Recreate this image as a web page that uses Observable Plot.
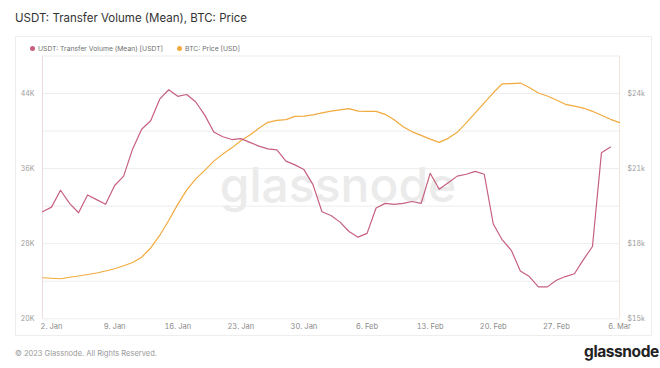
<!DOCTYPE html>
<html>
<head>
<meta charset="utf-8">
<script src="https://cdn.jsdelivr.net/npm/d3@7"></script>
<script src="https://cdn.jsdelivr.net/npm/@observablehq/plot@0.6"></script>
<style>
  html, body { margin: 0; padding: 0; background: #fff; }
  body { width: 660px; height: 368px; position: relative; overflow: hidden; font-family: Inter, "Noto Sans", sans-serif; }
  #title { position: absolute; left: 15px; top: 11px; font-size: 11.5px; color: #333; white-space: nowrap; }
  #frame { position: absolute; left: 15px; top: 36px; width: 637px; height: 300px; border: 1px solid #eeeeee; box-sizing: border-box; }
  #legend { position: absolute; left: 30px; top: 44px; font-size: 6.8px; color: #707070; white-space: nowrap; display: flex; gap: 14px; }
  #legend span.dot { display: inline-block; width: 5px; height: 5px; border-radius: 50%; margin-right: 3px; vertical-align: 0px; }
  #chart { position: absolute; left: 0; top: 0; }
  #copy { position: absolute; left: 15px; top: 349px; font-size: 7.5px; color: #999; white-space: nowrap; }
  #logo { position: absolute; left: 584px; top: 342px; font-size: 15.5px; font-weight: 700; color: #222; letter-spacing: -0.4px; white-space: nowrap; }
</style>
</head>
<body>
<div id="title">USDT: Transfer Volume (Mean), BTC: Price</div>
<div id="frame"></div>
<div id="chart"></div>
<div id="legend"></div>
<div id="copy">© 2023 Glassnode. All Rights Reserved.</div>
<div id="logo">glassnode</div>
<script>
// ---- data (daily, starting 1 Jan 2023) ----
const startDate = "2023-01-01";
const seriesNames = ["USDT: Transfer Volume (Mean) [USDT]", "BTC: Price [USD]"];
const seriesColors = ["#c6607f", "#f1aa3e"];
// USDT mean transfer volume, thousands of USDT
const usdtVolumeK = [31.4, 31.9, 33.7, 32.3, 31.3, 33.2, 32.7, 32.2, 34.2, 35.2,
  38.1, 40.2, 41.1, 43.4, 44.4, 43.7, 43.9, 43.1, 41.7, 39.9,
  39.4, 39.1, 39.2, 38.8, 38.4, 38.1, 38.0, 36.8, 36.4, 35.9,
  34.3, 31.4, 31.0, 30.3, 29.3, 28.7, 29.1, 31.8, 32.3, 32.2,
  32.3, 32.5, 32.3, 35.5, 33.8, 34.5, 35.2, 35.4, 35.7, 35.4,
  30.1, 28.4, 27.3, 25.1, 24.5, 23.4, 23.4, 24.1, 24.5, 24.8,
  26.3, 27.7, 37.7, 38.3];
// BTC price, thousands of USD
const btcPriceK = [16.64, 16.62, 16.60, 16.66, 16.71, 16.77, 16.83, 16.91, 17.00, 17.12,
  17.25, 17.46, 17.83, 18.33, 18.93, 19.57, 20.15, 20.59, 20.93, 21.30,
  21.58, 21.83, 22.11, 22.34, 22.61, 22.85, 22.93, 22.96, 23.09, 23.10,
  23.15, 23.23, 23.30, 23.35, 23.40, 23.30, 23.29, 23.29, 23.17, 22.95,
  22.67, 22.47, 22.33, 22.18, 22.05, 22.21, 22.45, 22.83, 23.23, 23.63,
  24.03, 24.39, 24.40, 24.42, 24.24, 24.02, 23.90, 23.74, 23.57, 23.50,
  23.42, 23.29, 23.13, 22.97, 22.84];
// axes
const leftDomain = [20, 48];
const rightDomain = [15, 25.5];
const leftTicks = [20, 28, 36, 44];
const leftGrid = [20, 24, 28, 32, 36, 40, 44, 48];
const rightTicks = [15, 18, 21, 24];
const xTickDates = ["2023-01-02", "2023-01-09", "2023-01-16", "2023-01-23", "2023-01-30",
  "2023-02-06", "2023-02-13", "2023-02-20", "2023-02-27", "2023-03-06"];
const xEndDate = "2023-03-06";

// ---- build ----
const start = new Date(startDate + "T00:00:00Z");
const toLeft = p => leftDomain[0] + (p - rightDomain[0]) * (leftDomain[1] - leftDomain[0]) / (rightDomain[1] - rightDomain[0]);
const fromLeft = v => rightDomain[0] + (v - leftDomain[0]) * (rightDomain[1] - rightDomain[0]) / (leftDomain[1] - leftDomain[0]);
const usdtData = usdtVolumeK.map((v, i) => ({date: d3.utcDay.offset(start, i), v}));
const btcData = btcPriceK.map((p, i) => ({date: d3.utcDay.offset(start, i), v: toLeft(p)}));
const xTicks = xTickDates.map(s => new Date(s + "T00:00:00Z"));
const end = new Date(xEndDate + "T00:00:00Z");

const chart = Plot.plot({
  width: 660,
  height: 368,
  marginLeft: 42,
  marginRight: 41,
  marginTop: 55.5,
  marginBottom: 49.7,
  style: {background: "transparent", fontFamily: "Inter, sans-serif", fontSize: "7px"},
  x: {type: "utc", domain: [start, end]},
  y: {domain: leftDomain},
  marks: [
    Plot.gridY(leftGrid, {stroke: "#ededed", strokeOpacity: 1, strokeWidth: 1}),
    Plot.text(["glassnode"], {text: d => d, frameAnchor: "middle", dx: 7, dy: -1, fontSize: 48, fontWeight: 500, fill: "#ebebeb"}),
    Plot.ruleX([start], {stroke: "#ecdbe1", strokeWidth: 1}),
    Plot.ruleX([end], {stroke: "#f0e6d6", strokeWidth: 1}),
    Plot.axisY(leftTicks, {anchor: "left", tickSize: 0, tickPadding: 8, tickFormat: d => `${d}K`, fill: "#9b9b9b", label: null}),
    Plot.axisY(rightTicks.map(toLeft), {anchor: "right", tickSize: 0, tickPadding: 8, tickFormat: d => `$${Math.round(fromLeft(d))}k`, fill: "#9b9b9b", label: null}),
    Plot.axisX(xTicks, {anchor: "bottom", tickSize: 0, tickPadding: 5, tickFormat: d3.utcFormat("%-d. %b"), fill: "#8a8a8a", fontSize: 7.5, label: null}),
    Plot.line(btcData, {x: "date", y: "v", stroke: seriesColors[1], strokeWidth: 1.2}),
    Plot.line(usdtData, {x: "date", y: "v", stroke: seriesColors[0], strokeWidth: 1.2})
  ]
});
document.getElementById("chart").appendChild(chart);

const legend = document.getElementById("legend");
seriesNames.forEach((name, i) => {
  const item = document.createElement("div");
  item.innerHTML = `<span class="dot" style="background:${seriesColors[i]}"></span>${name}`;
  legend.appendChild(item);
});
</script>
</body>
</html>
